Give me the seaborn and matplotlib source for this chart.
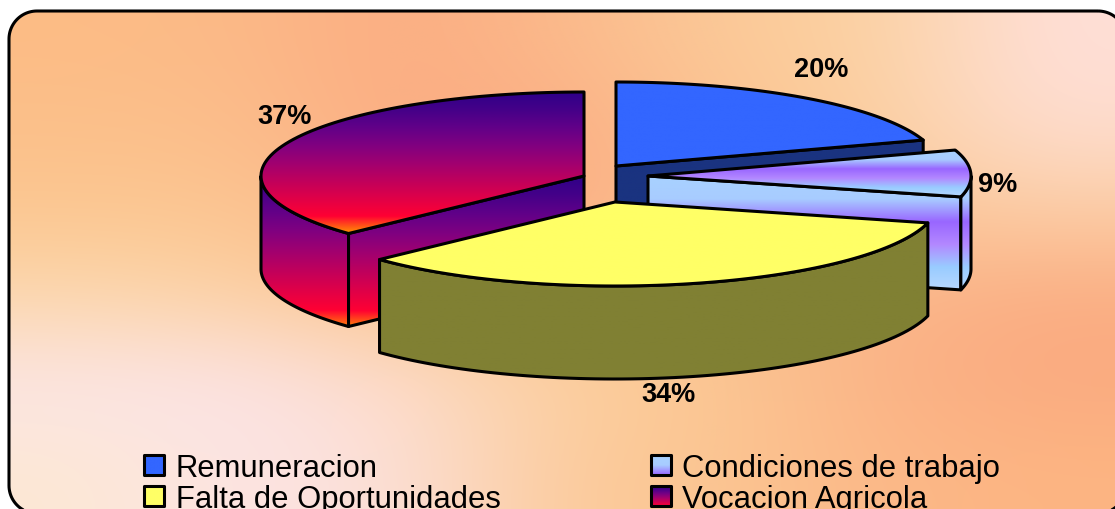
import numpy as np
import matplotlib
matplotlib.use("Agg")
import matplotlib.pyplot as plt
from matplotlib.patches import Polygon
import seaborn as sns

# ---- data ----
categories = ["Remuneracion", "Condiciones de trabajo", "Falta de Oportunidades", "Vocacion Agricola"]
percentages = [20, 9, 34, 37]
pct_labels = ["20%", "9%", "34%", "37%"]

# ---- layout (pixels) ----
W, H = 1115, 510
RX, RY, DEPTH = 323, 84, 93
apexes = [(616, 167), (648, 177), (615, 203), (584, 177)]
label_pos = [(821, 70), (998, 185), (668, 395), (285, 117)]
legend_boxes = [(144, 456), (651, 456), (144, 487), (651, 487)]
legend_text_x = [176, 682, 176, 682]
legend_base = [477, 477, 508, 508]
FONT = "Liberation Sans"

sns.set_theme(style="white", rc={"font.family": FONT})

# gradient colour lists
blue_top = ["#3366FF"]
blue_wall = ["#1A3380"]
light_grad = ["#A8D2FF", "#A8CCFF", "#9966FF", "#B388FF", "#99CCFF", "#B8D8FF"]
yellow_top = ["#FFFF66"]
yellow_wall = ["#808033"]
fire = ["#2E0089", "#450088", "#620088", "#800080", "#A00070", "#C0005C", "#E00048", "#FF0033", "#FF9900"]

def cmap_of(cols):
    if len(cols) == 1:
        cols = cols * 2
    return sns.blend_palette(cols, n_colors=256, as_cmap=True)

fig = plt.figure(figsize=(W / 100, H / 100), dpi=100)
ax = fig.add_axes([0, 0, 1, 1])
ax.set_xlim(0, W)
ax.set_ylim(H, 0)
ax.axis("off")
fig.patch.set_facecolor("white")

# ---- rounded frame as a polyline ----
def rounded_rect(x0, y0, x1, y1, r, n=24):
    out = []
    for cx, cy, a0 in [(x1 - r, y0 + r, -90), (x1 - r, y1 - r, 0), (x0 + r, y1 - r, 90), (x0 + r, y0 + r, 180)]:
        t = np.radians(np.linspace(a0, a0 + 90, n))
        out.append(np.column_stack([cx + r * np.cos(t), cy + r * np.sin(t)]))
    return np.vstack(out)

frame_pts = rounded_rect(9, 12, 1126, 514.5, 28)
frame = Polygon(frame_pts, closed=True, facecolor="none", edgecolor="black", linewidth=2.2, zorder=50)
ax.add_patch(frame)

# ---- background: coarse colour mesh, smoothly interpolated ----
bg_rows = [
    ["#FDBC85", "#FBBA88", "#FBAC82", "#FBB98A", "#FBC998", "#FBD2A2", "#FFDFD8"],
    ["#FBC08A", "#FBBE8C", "#FBAC82", "#FBAE85", "#FBC390", "#FBCF9F", "#FEDDD0"],
    ["#FCC791", "#FBC692", "#FBB488", "#FBAC82", "#FBC291", "#FBC898", "#FBCDA4"],
    ["#FCD8AE", "#FBD2A6", "#FBC58F", "#FBC490", "#FBC28F", "#FBB68A", "#FBAD82"],
    ["#FBE5E6", "#FBE3E8", "#FDDCCB", "#FBD0A0", "#FBC894", "#FBB386", "#FAAA80"],
    ["#FDE8D4", "#FCE4E4", "#FCE0D8", "#FBCB9C", "#FBC692", "#FBB888", "#FDB582"],
]
rgb = np.array([[matplotlib.colors.to_rgb(c) for c in r] for r in bg_rows])
bg = ax.imshow(rgb, extent=(0, W, H, 0), interpolation="bicubic", aspect="auto", zorder=0)
bg.set_clip_path(Polygon(frame_pts, closed=True, transform=ax.transData))

z = [5]
def grad_fill(pts, cols, y0=None, y1=None, lw=2.2):
    pts = np.asarray(pts)
    z[0] += 2
    y0 = pts[:, 1].min() if y0 is None else y0
    y1 = pts[:, 1].max() if y1 is None else y1
    poly = Polygon(pts, closed=True, facecolor="none", edgecolor="black", linewidth=lw,
                   joinstyle="round", zorder=z[0] + 1)
    ax.add_patch(poly)
    g = np.linspace(0, 1, 256)[:, None]
    x0, x1 = pts[:, 0].min(), pts[:, 0].max()
    im = ax.imshow(g, extent=(x0, x1, y1, y0), cmap=cmap_of(cols), aspect="auto", zorder=z[0])
    im.set_clip_path(Polygon(pts, closed=True, transform=ax.transData))
    ax.set_xlim(0, W)
    ax.set_ylim(H, 0)

def rim(a, b, apex, n=80):
    t = np.radians(np.linspace(a, b, max(n, 2)))
    return np.column_stack([apex[0] + RX * np.sin(t), apex[1] - RY * np.cos(t)])

edges = np.concatenate([[0], np.cumsum(percentages)]) * 3.6
span = [(edges[i], edges[i + 1]) for i in range(4)]
down = np.array([0, DEPTH])

def top(i):
    a = np.array(apexes[i])
    return np.vstack([a, rim(*span[i], a)])

def cut(i, ang):
    a = np.array(apexes[i])
    p = rim(ang, ang, a, 2)[0]
    return np.array([a, p, p + down, a + down])

def outer(i, a0, b0):
    r = rim(a0, b0, np.array(apexes[i]))
    return np.vstack([r, (r + down)[::-1]])

# Vocacion Agricola (back left)
grad_fill(outer(3, span[3][0], 270), fire, 172, 331)
grad_fill(cut(3, span[3][0]), fire, 177, 331)
grad_fill(top(3), fire)

# Remuneracion
grad_fill(cut(0, span[0][1]), blue_wall)
grad_fill(top(0), blue_top)

# Condiciones de trabajo
grad_fill(cut(1, span[1][1]), light_grad, 177, 291)
grad_fill(outer(1, 90, span[1][1]), light_grad, 177, 291)
grad_fill(top(1), light_grad)

# Falta de Oportunidades
grad_fill(outer(2, *span[2]), yellow_wall)
grad_fill(top(2), yellow_top)

# ---- percent labels ----
for s, (x, y) in zip(pct_labels, label_pos):
    ax.text(x, y, s, ha="center", va="center", fontsize=19.5, fontweight="bold",
            color="black", family=FONT, zorder=60)

# ---- legend ----
legend_cols = [blue_top, light_grad[:3], yellow_top, fire[:8]]
for name, cols, (bx, by), tx, by2 in zip(categories, legend_cols, legend_boxes, legend_text_x, legend_base):
    s = 20
    grad_fill([(bx, by), (bx + s, by), (bx + s, by + s), (bx, by + s)], cols)
    ax.text(tx, by2, name, ha="left", va="baseline", fontsize=22.3, color="black",
            family=FONT, zorder=60)

fig.savefig("out.png", dpi=100)
